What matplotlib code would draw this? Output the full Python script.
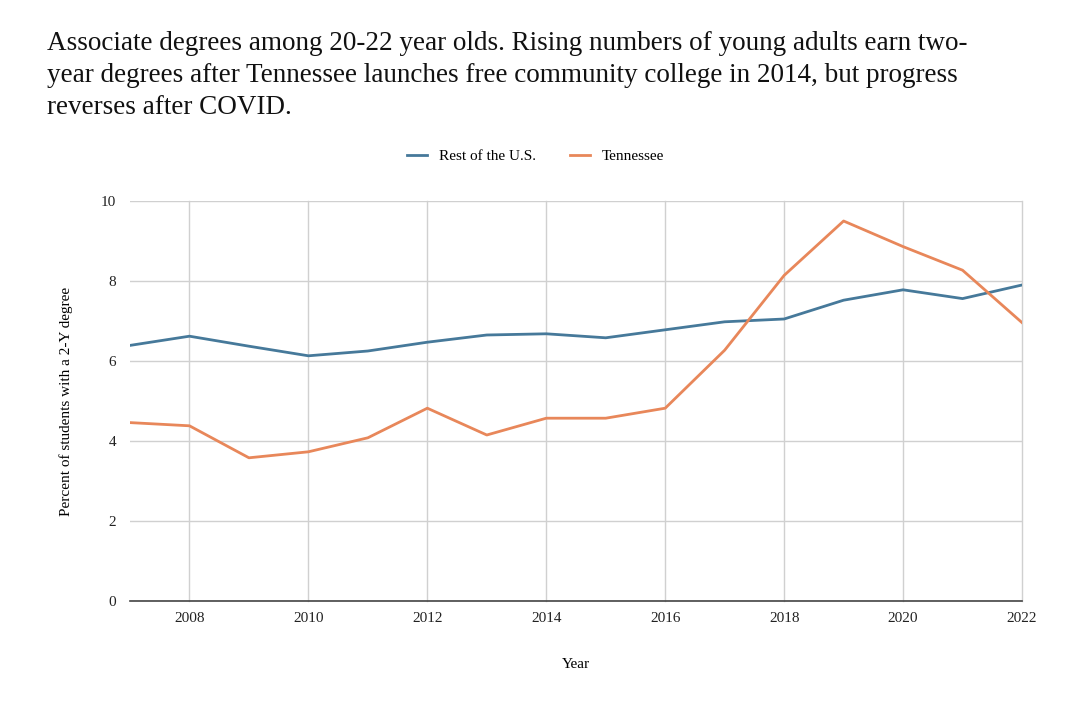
import matplotlib.pyplot as plt

plt.rcParams['font.family'] = ['Liberation Serif', 'DejaVu Serif']

years = list(range(2007, 2023))
rest_us = [6.39, 6.62, 6.37, 6.13, 6.25, 6.47, 6.65, 6.68, 6.58, 6.78,
           6.98, 7.05, 7.52, 7.78, 7.56, 7.90]
tennessee = [4.46, 4.38, 3.58, 3.73, 4.08, 4.82, 4.15, 4.57, 4.57, 4.82,
             6.27, 8.14, 9.50, 8.86, 8.27, 6.96]
x_ticks = list(range(2008, 2023, 2))
y_ticks = [0, 2, 4, 6, 8, 10]

title = ("Associate degrees among 20-22 year olds. Rising numbers of young adults earn two-\n"
         "year degrees after Tennessee launches free community college in 2014, but progress\n"
         "reverses after COVID.")

fig = plt.figure(figsize=(10.68, 7.03), dpi=100)
ax = fig.add_axes([130 / 1068, 1 - 601 / 703, 892 / 1068, 400 / 703])

ax.plot(years, rest_us, color='#46799a', lw=2.0, label='Rest of the U.S.')
ax.plot(years, tennessee, color='#e8875a', lw=2.0, label='Tennessee')

ax.set_xlim(2007, 2022)
ax.set_ylim(0, 10)
ax.set_xticks(x_ticks)
ax.set_yticks(y_ticks)
ax.grid(True, color='#d0d0d0', lw=1)
for gl in ax.get_xgridlines():
    gl.set_clip_on(False)
ax.set_axisbelow(True)
for s in ['top', 'right', 'left']:
    ax.spines[s].set_visible(False)
ax.spines['bottom'].set_color('#444444')
ax.spines['bottom'].set_linewidth(1.2)
ax.tick_params(length=0, labelsize=11, colors='#222222', pad=8)
ax.tick_params(axis='y', pad=10)

ax.set_xlabel('Year', fontsize=11, labelpad=24)
ax.set_ylabel('Percent of students with a 2-Y degree', fontsize=11, labelpad=20)

ax.legend(loc='lower center', bbox_to_anchor=(0.455, 1.06), ncol=2, frameon=False,
          fontsize=11, handlelength=1.3, handletextpad=0.8, columnspacing=2.2)

fig.text(47 / 1068, 1 - 31 / 703, title, fontsize=19.5, va='top', ha='left',
         linespacing=1.36, color='#111111')

fig.savefig('out.png', dpi=100)
